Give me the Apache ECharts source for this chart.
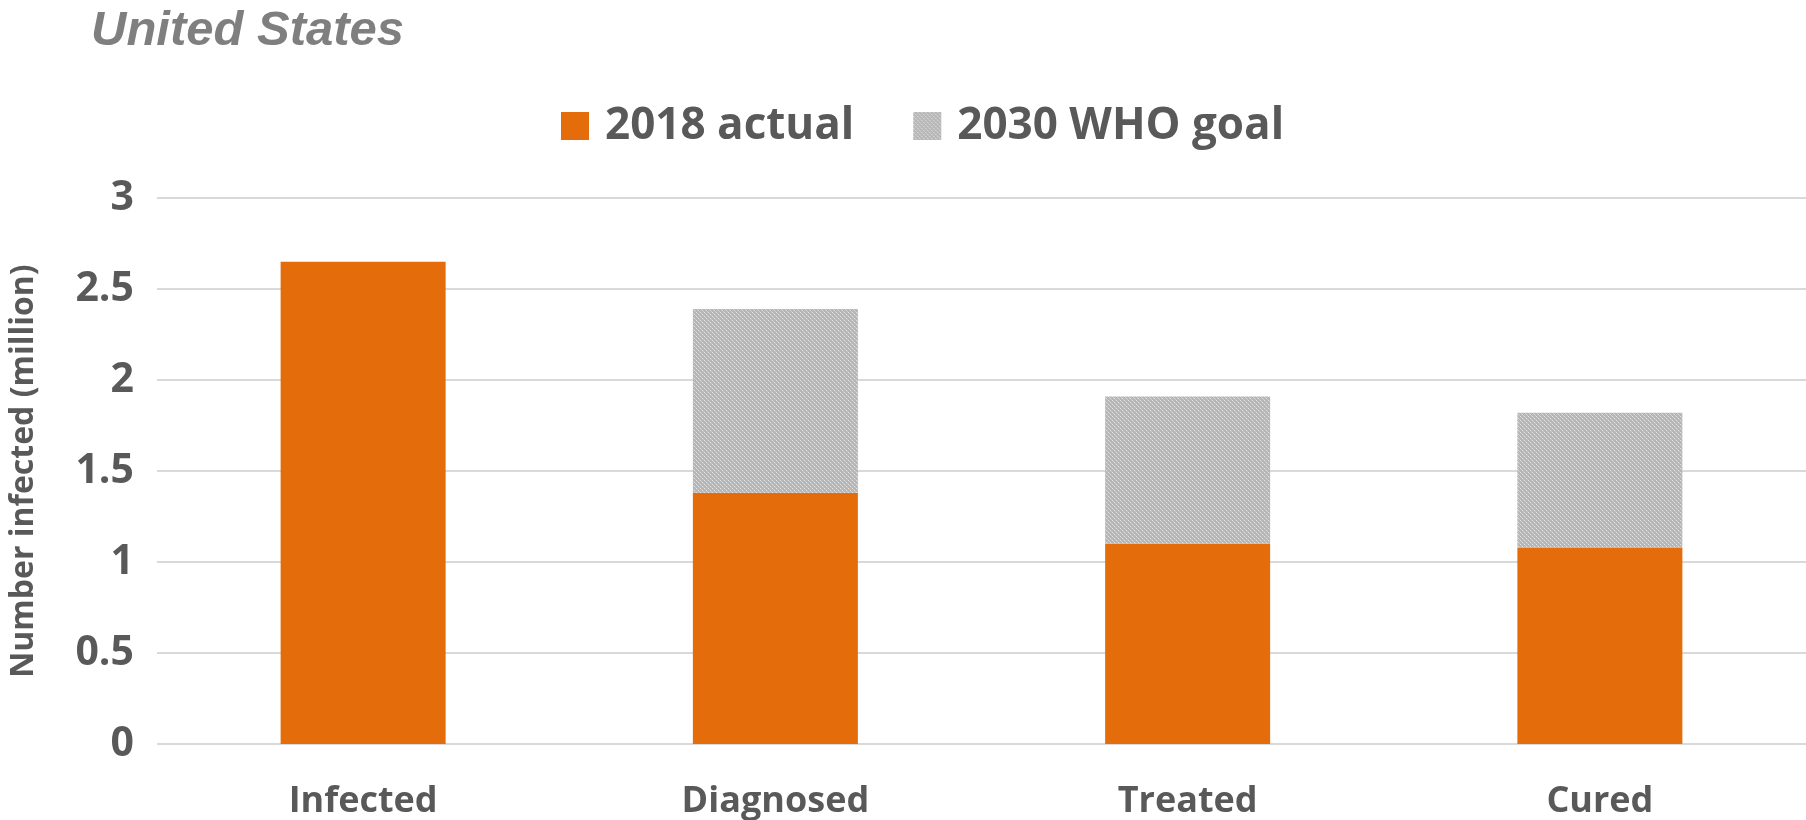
<!DOCTYPE html>
<html>
<head>
<meta charset="utf-8">
<script src="https://cdn.jsdelivr.net/npm/echarts@6/dist/echarts.min.js"></script>
<style>
html,body{margin:0;padding:0;background:#fff;overflow:hidden;}
#chart{width:1806px;height:820px;}
</style>
</head>
<body>
<div id="chart"></div>
<script>
const categories = ['Infected', 'Diagnosed', 'Treated', 'Cured'];
const actual2018 = [2.65, 1.38, 1.10, 1.08];
const whoGoal2030 = [null, 2.39, 1.91, 1.82];
const yTicks = [0, 0.5, 1, 1.5, 2, 2.5, 3];

const goalGap = whoGoal2030.map((g, i) => g == null ? null : +(g - actual2018[i]).toFixed(3));

function makePattern() {
  const c = document.createElement('canvas');
  c.width = 4; c.height = 4;
  const ctx = c.getContext('2d');
  ctx.fillStyle = '#b6b6b6';
  ctx.fillRect(0, 0, 4, 4);
  ctx.fillStyle = '#e2e2e2';
  ctx.fillRect(0, 0, 1, 1);
  ctx.fillRect(2, 2, 1, 1);
  ctx.fillStyle = '#cbcbcb';
  ctx.fillRect(1, 1, 1, 1);
  ctx.fillRect(3, 3, 1, 1);
  return c;
}
const pattern = { image: makePattern(), repeat: 'repeat' };

const font = '"Open Sans", "Noto Sans", sans-serif';
const textColor = '#595959';

const chart = echarts.init(document.getElementById('chart'), null, { renderer: 'canvas' });
chart.setOption({
  animation: false,
  backgroundColor: '#ffffff',
  title: {
    text: 'United States',
    left: 86, top: 2,
    textStyle: { fontFamily: '"Liberation Sans", Arial, sans-serif', fontStyle: 'italic', fontWeight: 'bold', fontSize: 49, color: '#7f7f7f' }
  },
  legend: {
    left: 556, top: 99,
    itemWidth: 28, itemHeight: 28, itemGap: 59,
    textStyle: { fontFamily: font, fontWeight: 'bold', fontSize: 44, color: textColor, padding: [0, 0, 0, 11] },
    data: [
      { name: '2018 actual', icon: 'rect' },
      { name: '2030 WHO goal', icon: 'rect' }
    ]
  },
  grid: { left: 155.5, width: 1664, top: 198, bottom: 72, containLabel: false },
  xAxis: {
    type: 'category', data: categories,
    axisLine: { show: false }, axisTick: { show: false },
    axisLabel: { fontFamily: font, fontWeight: 'bold', fontSize: 36, color: textColor, margin: 40 }
  },
  yAxis: {
    type: 'value', min: 0, max: 3, interval: 0.5,
    name: 'Number infected (million)', nameLocation: 'middle', nameGap: 117, nameRotate: 90,
    nameTextStyle: { fontFamily: font, fontWeight: 'bold', fontSize: 32, color: textColor },
    axisLine: { show: false }, axisTick: { show: false },
    axisLabel: {
      fontFamily: font, fontWeight: 'bold', fontSize: 41, color: textColor, margin: 23,
      formatter: v => yTicks.includes(v) ? String(v) : ''
    },
    splitLine: { lineStyle: { color: '#d9d9d9', width: 2 } }
  },
  series: [
    {
      name: '2018 actual', type: 'bar', stack: 'total',
      data: actual2018, barWidth: 165,
      itemStyle: { color: '#E46C0A' }
    },
    {
      name: '2030 WHO goal', type: 'bar', stack: 'total',
      data: goalGap, barWidth: 165,
      itemStyle: { color: pattern }
    }
  ]
});
</script>
</body>
</html>
